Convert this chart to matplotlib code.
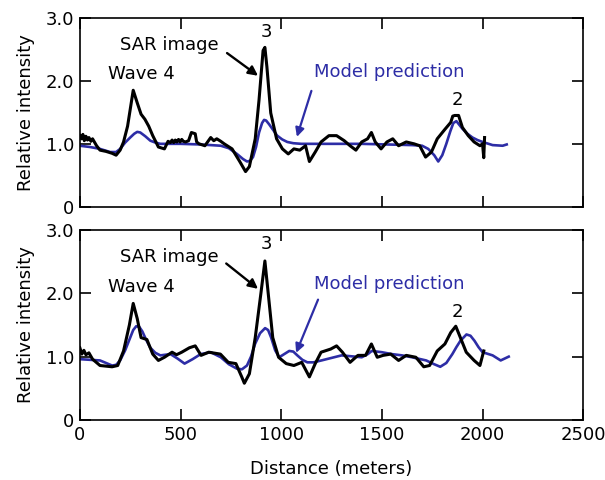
import matplotlib
matplotlib.use("Agg")
import matplotlib.pyplot as plt

plt.rcParams['font.family'] = ['DejaVu Sans']

# ---- Top panel data ----
top_sar_x = [0, 8, 15, 22, 30, 38, 45, 55, 63, 83, 100, 130, 160, 180, 200, 217, 237, 265, 285, 304,
             323, 342, 362, 390, 420, 438, 450, 458, 466, 474, 482, 490, 498, 506, 514, 525, 540, 554,
             573, 580, 592, 621, 650, 665, 680, 700, 717, 756, 794, 823, 842, 871, 890, 910, 919, 929,
             948, 977, 1006, 1035, 1063, 1092, 1121, 1140, 1169, 1198, 1237, 1275, 1313, 1342, 1371,
             1400, 1429, 1448, 1467, 1496, 1525, 1554, 1583, 1621, 1660, 1688, 1717, 1746, 1775, 1813,
             1842, 1852, 1862, 1881, 1900, 1929, 1958, 1987, 2000, 2006, 2010]
top_sar_y = [1.13, 1.08, 1.15, 1.05, 1.12, 1.06, 1.1, 1.04, 1.08, 0.97, 0.9, 0.88, 0.85, 0.82, 0.9,
             1.03, 1.28, 1.85, 1.65, 1.47, 1.39, 1.28, 1.13, 0.95, 0.92, 1.04, 1.02, 1.06, 1.02, 1.06,
             1.03, 1.07, 1.03, 1.07, 1.04, 1.03, 1.05, 1.18, 1.16, 1.03, 1.0, 0.97, 1.1, 1.05, 1.08,
             1.04, 1.0, 0.92, 0.72, 0.56, 0.64, 1.08, 1.7, 2.48, 2.53, 2.22, 1.49, 1.08, 0.92, 0.84,
             0.92, 0.9, 0.97, 0.72, 0.87, 1.03, 1.13, 1.13, 1.05, 0.97, 0.9, 1.03, 1.08, 1.18, 1.03,
             0.92, 1.03, 1.08, 0.97, 1.03, 1.0, 0.97, 0.79, 0.87, 1.08, 1.23, 1.34, 1.44, 1.45, 1.45,
             1.26, 1.13, 1.03, 0.97, 1.0, 0.78, 1.1]
top_model_x = [0, 50, 100, 150, 180, 200, 225, 250, 270, 285, 300, 325, 350, 375, 400, 500, 600, 700,
               740, 780, 810, 830, 845, 860, 875, 890, 905, 915, 925, 940, 960, 980, 1005, 1030, 1060,
               1100, 1400, 1650, 1700, 1730, 1760, 1780, 1800, 1820, 1840, 1855, 1870, 1885, 1900, 1925,
               1950, 1975, 2000, 2050, 2100, 2120]
top_model_y = [0.97, 0.95, 0.92, 0.87, 0.87, 0.92, 1.02, 1.1, 1.16, 1.19, 1.18, 1.12, 1.05, 1.02, 1.0,
               1.0, 0.99, 0.97, 0.93, 0.84, 0.76, 0.72, 0.73, 0.79, 0.95, 1.18, 1.33, 1.38, 1.37, 1.31,
               1.22, 1.13, 1.07, 1.03, 1.01, 1.0, 1.0, 0.98, 0.97, 0.92, 0.82, 0.72, 0.82, 1.0, 1.2,
               1.33, 1.36, 1.3, 1.24, 1.16, 1.1, 1.06, 1.03, 0.98, 0.97, 0.99]

# ---- Bottom panel data ----
bot_sar_x = [0, 10, 20, 30, 45, 63, 100, 160, 188, 217, 246, 265, 285, 304, 333, 362, 390, 420, 458,
             480, 506, 544, 573, 602, 640, 698, 737, 775, 804, 817, 842, 871, 900, 919, 938, 958, 987,
             1025, 1063, 1102, 1140, 1169, 1198, 1246, 1275, 1304, 1342, 1381, 1419, 1448, 1477, 1506,
             1544, 1583, 1621, 1669, 1708, 1737, 1775, 1813, 1842, 1867, 1890, 1919, 1958, 1987, 2006]
bot_sar_y = [1.14, 1.04, 1.1, 1.03, 1.06, 0.96, 0.86, 0.84, 0.86, 1.09, 1.5, 1.84, 1.6, 1.3, 1.27,
             1.04, 0.94, 0.99, 1.07, 1.03, 1.07, 1.14, 1.17, 1.02, 1.07, 1.04, 0.91, 0.89, 0.68, 0.58,
             0.73, 1.3, 2.02, 2.51, 1.92, 1.3, 0.99, 0.89, 0.86, 0.91, 0.68, 0.89, 1.07, 1.12, 1.17,
             1.07, 0.91, 1.02, 1.02, 1.2, 0.99, 1.02, 1.04, 0.94, 1.02, 0.99, 0.84, 0.86, 1.09, 1.2,
             1.38, 1.48, 1.3, 1.07, 0.94, 0.86, 1.09]
bot_model_x = [0, 100, 130, 160, 180, 200, 225, 250, 265, 280, 295, 310, 330, 350, 375, 400, 450, 485,
               520, 560, 600, 650, 700, 740, 780, 805, 830, 850, 870, 895, 920, 935, 950, 970, 990, 1015,
               1040, 1060, 1080, 1105, 1130, 1160, 1200, 1300, 1400, 1430, 1450, 1500, 1550, 1600, 1650,
               1720, 1760, 1790, 1820, 1850, 1870, 1890, 1920, 1940, 1960, 1980, 2000, 2050, 2090, 2130]
bot_model_y = [0.96, 0.94, 0.9, 0.86, 0.87, 0.94, 1.1, 1.3, 1.42, 1.48, 1.47, 1.4, 1.26, 1.14, 1.06,
               1.02, 1.04, 0.97, 0.89, 0.96, 1.04, 1.07, 0.99, 0.88, 0.81, 0.8, 0.86, 1.0, 1.2, 1.37,
               1.45, 1.42, 1.3, 1.1, 0.99, 1.04, 1.09, 1.08, 1.02, 0.95, 0.91, 0.91, 0.94, 1.02, 0.99,
               1.04, 1.09, 1.07, 1.04, 1.02, 0.99, 0.94, 0.88, 0.84, 0.9, 1.04, 1.15, 1.25, 1.35, 1.33,
               1.25, 1.15, 1.07, 1.02, 0.94, 1.0]

x_ticks = [0, 500, 1000, 1500, 2000, 2500]
y_ticks = [0, 1.0, 2.0, 3.0]
y_ticklabels = ['0', '1.0', '2.0', '3.0']

BLUE = '#2d2da6'
FS = 13

fig = plt.figure(figsize=(6.05, 4.8), dpi=100)
ax_top = fig.add_axes([0.132, 0.569, 0.832, 0.394])
ax_bot = fig.add_axes([0.132, 0.125, 0.832, 0.396])

panels = [
    (ax_top, top_sar_x, top_sar_y, top_model_x, top_model_y,
     (731, 2.44), (885, 2.08), (1150, 1.84), (1078, 1.11)),
    (ax_bot, bot_sar_x, bot_sar_y, bot_model_x, bot_model_y,
     (727, 2.47), (885, 2.07), (1183, 1.9), (1074, 1.06)),
]

for ax, sx, sy, mx, my, sa0, sa1, ma0, ma1 in panels:
    ax.plot(mx, my, color=BLUE, lw=1.9, zorder=2, solid_joinstyle='round')
    ax.plot(sx, sy, color='black', lw=2.2, zorder=3, solid_joinstyle='round')
    ax.set_xlim(0, 2500)
    ax.set_ylim(0, 3.0)
    ax.set_xticks(x_ticks)
    ax.set_yticks(y_ticks)
    ax.set_yticklabels(y_ticklabels)
    ax.tick_params(direction='in', length=8, width=1.2, top=True, right=True,
                   labelsize=FS, pad=4)
    for s in ax.spines.values():
        s.set_linewidth(1.2)
    ax.set_ylabel('Relative intensity', fontsize=FS, labelpad=8)
    ax.text(308, 2.1, 'Wave 4', fontsize=FS, ha='center', va='center')
    ax.text(445, 2.57, 'SAR image', fontsize=FS, ha='center', va='center')
    ax.text(928, 2.78, '3', fontsize=FS, ha='center', va='center')
    ax.text(1535, 2.14, 'Model prediction', fontsize=FS, ha='center', va='center', color=BLUE)
    ax.text(1875, 1.7, '2', fontsize=FS, ha='center', va='center')
    ax.annotate('', xy=sa1, xytext=sa0,
                arrowprops=dict(arrowstyle='-|>', color='black', lw=1.7, mutation_scale=14,
                                shrinkA=0, shrinkB=0))
    ax.annotate('', xy=ma1, xytext=ma0,
                arrowprops=dict(arrowstyle='-|>', color=BLUE, lw=1.6, mutation_scale=13,
                                shrinkA=0, shrinkB=0))

ax_top.set_xticklabels([])
ax_bot.set_xlabel('Distance (meters)', fontsize=FS, labelpad=12)

fig.savefig('out.png', dpi=100)
